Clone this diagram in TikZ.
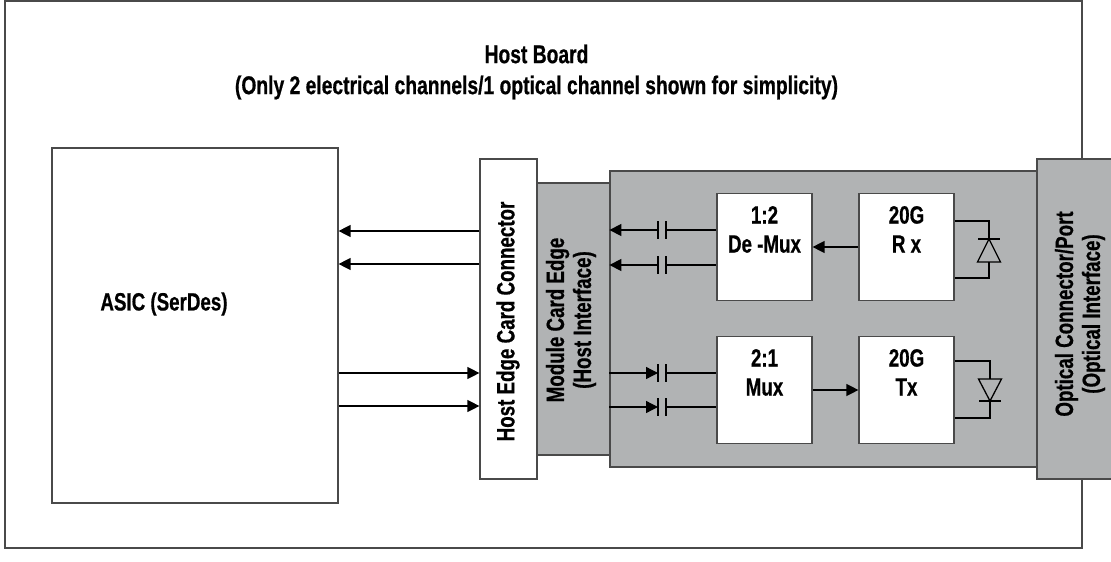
\documentclass[tikz,border=0pt]{standalone}
\usepackage{fontspec}
\setmainfont[FakeStretch=0.75,BoldFeatures={FakeBold=0.6}]{Liberation Sans}
\usetikzlibrary{arrows.meta,positioning,calc}
\definecolor{modgray}{HTML}{B1B3B4}
\definecolor{edgegray}{HTML}{4A4A4A}
\tikzset{
	box_w/.style = {draw=edgegray, line width=1.2pt, fill=white, inner sep=0pt},
	box_g/.style = {box_w, fill=modgray},
	txt/.style = {align=center, inner sep=0pt, font=\bfseries\fontsize{25}{31}\selectfont},
	txt_t/.style = {txt, font=\bfseries\fontsize{25.7}{31}\selectfont},
	txt_r/.style = {txt, rotate=90, font=\bfseries\fontsize{25}{27}\selectfont},
	block/.style = {box_w, minimum width=95pt, minimum height=107pt},
	block_t/.style = {align=center, inner sep=0pt, font=\bfseries\fontsize{25}{29}\selectfont, anchor=north, yshift=-13pt},
	wire/.style = {draw=black, line width=1.3pt},
	sig/.style = {wire, -{Triangle[length=12pt,width=12pt]}}
}
\begin{document}
\begin{tikzpicture}[x=1pt,y=-1pt]
	\useasboundingbox (0,0) rectangle (1111,562);
	\node [box_w, minimum width=1077pt, minimum height=547pt] (host) at (543.5,274.5) {};
	\node [txt_t] (hostt) at (536.5,72) {Host Board\\(Only 2 electrical channels/1 optical channel shown for simplicity)};
	\node [box_w, minimum width=286pt, minimum height=355pt] (asic) at (195,325.5) {};
	\node [txt] (asict) at (164,304) {ASIC (SerDes)};
	\node [box_g, minimum width=73pt, minimum height=272pt] (cardedge) at (573.5,319) {};
	\node [box_g, minimum width=427pt, minimum height=296pt] (module) at (823.5,319) {};
	\node [box_g, minimum width=80pt, minimum height=320pt] (optical) at (1077,319) {};
	\node [box_w, minimum width=57pt, minimum height=320pt] (hostedge) at (508.5,319) {};
	\node [txt_r] (hostedget) at (508,321.5) {Host Edge Card Connector};
	\node [txt_r] (cardedget) at (571,320) {Module Card Edge\\(Host Interface)};
	\node [txt_r] (opticalt) at (1080,314) {Optical Connector/Port\\(Optical Interface)};
	% blocks
	\node [block] (demux) at (764.5,247) {};
	\node [block] (rx) at (906.5,247) {};
	\node [block] (mux) at (764.5,390) {};
	\node [block] (tx) at (906.5,390) {};
	\node [block_t] (demuxt) at (demux.north) {1:2\\De -Mux};
	\node [block_t] (rxt) at (rx.north) {20G\\R x};
	\node [block_t] (muxt) at (mux.north) {2:1\\Mux};
	\node [block_t] (txt1) at (tx.north) {20G\\Tx};
	% board level signals
	\foreach \y in {231,264}
		\draw [sig] (hostedge.west |- 0,\y) -- (asic.east |- 0,\y);
	\foreach \y in {373,406}
		\draw [sig] (asic.east |- 0,\y) -- (hostedge.west |- 0,\y);
	% AC coupled lanes
	\foreach \y in {230,265} {
		\draw [sig] (658,\y) -- (module.west |- 0,\y);
		\draw [wire] (658,\y-9) -- (658,\y+9);
		\draw [wire] (666,\y-9) -- (666,\y+9);
		\draw [wire] (666,\y) -- (demux.west |- 0,\y);
	}
	\foreach \y in {373,407} {
		\draw [sig] (module.west |- 0,\y) -- (658,\y);
		\draw [wire] (658,\y-9) -- (658,\y+9);
		\draw [wire] (666,\y-9) -- (666,\y+9);
		\draw [wire] (666,\y) -- (mux.west |- 0,\y);
	}
	\draw [sig] (rx.west) -- (demux.east);
	\draw [sig] (mux.east) -- (tx.west);
	% photodiode
	\draw [wire] (rx.east |- 0,221) -- (989,221) -- (989,239);
	\draw [wire] (989,262) -- (989,278) -- (rx.east |- 0,278);
	\draw [wire] (978,239) -- (1000,239);
	\draw [wire, line join=miter] (989,239) -- (1000.5,262) -- (977.5,262) -- cycle;
	% laser
	\draw [wire] (tx.east |- 0,361) -- (990,361) -- (990,379);
	\draw [wire] (990,401) -- (990,418) -- (tx.east |- 0,418);
	\draw [wire] (979,401) -- (1001,401);
	\draw [wire, line join=miter] (990,401) -- (1001.5,379) -- (978.5,379) -- cycle;
\end{tikzpicture}
\end{document}
